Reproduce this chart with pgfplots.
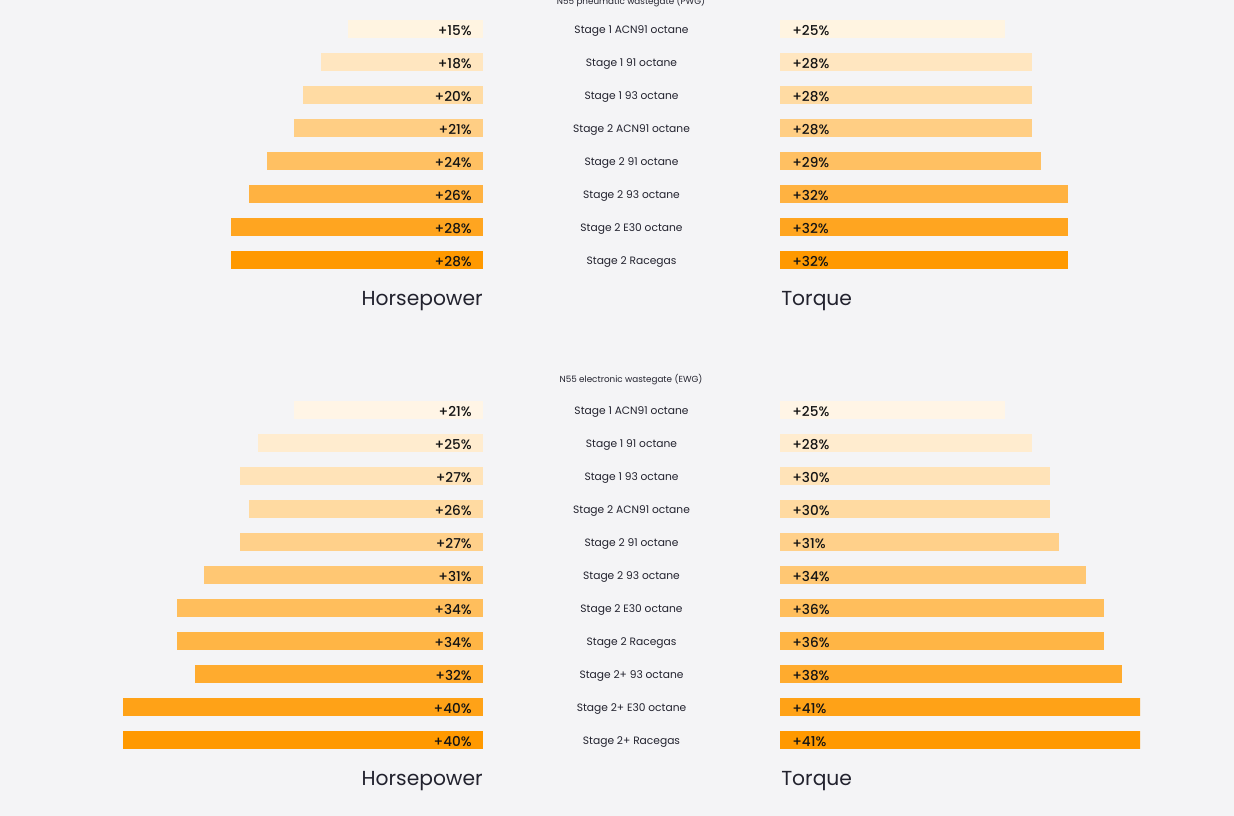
\documentclass[border=0pt]{standalone}
\usepackage{pgfplots}
\pgfplotsset{compat=1.18}
\usepackage{fontspec}
\setmainfont{Poppins}
\newfontfamily\med{Poppins Medium}
\definecolor{bg}{HTML}{F4F4F6}
\definecolor{txt}{HTML}{22222E}
\definecolor{lab}{HTML}{141414}
% top gradient (8)
\definecolor{t1}{HTML}{FFF4E1}
\definecolor{t2}{HTML}{FFE6C0}
\definecolor{t3}{HTML}{FFDBA3}
\definecolor{t4}{HTML}{FFCE84}
\definecolor{t5}{HTML}{FFC062}
\definecolor{t6}{HTML}{FFB241}
\definecolor{t7}{HTML}{FFA520}
\definecolor{t8}{HTML}{FF9900}
% bottom gradient (11)
\definecolor{b1}{HTML}{FFF5E6}
\definecolor{b2}{HTML}{FFECCF}
\definecolor{b3}{HTML}{FFE3B8}
\definecolor{b4}{HTML}{FFDAA1}
\definecolor{b5}{HTML}{FFD08A}
\definecolor{b6}{HTML}{FFC773}
\definecolor{b7}{HTML}{FFBE5C}
\definecolor{b8}{HTML}{FFB545}
\definecolor{b9}{HTML}{FFAB2E}
\definecolor{b10}{HTML}{FFA217}
\definecolor{b11}{HTML}{FF9900}
\def\u{0.75pt}
\pgfplotsset{
  bars/.style={xbar, bar width=13.5pt, bar shift=0pt, draw=none, fill=#1},
  base/.style={scale only axis, hide axis, xmin=0, xmax=40, y dir=reverse, clip=true},
  pctL/.style={draw=none, mark=none, nodes near coords, point meta=explicit symbolic,
    nodes near coords style={anchor=east, inner sep=0pt, xshift=-8.25pt, yshift=-1pt, font=\med\fontsize{10.2pt}{12pt}\selectfont, text=lab}},
  pctR/.style={draw=none, mark=none, nodes near coords, point meta=explicit symbolic,
    nodes near coords style={anchor=west, inner sep=0pt, xshift=9pt, yshift=-1pt, font=\med\fontsize{10.2pt}{12pt}\selectfont, text=lab}},
  mid/.style={draw=none, mark=none, nodes near coords, point meta=explicit symbolic,
    nodes near coords style={anchor=center, inner sep=0pt, yshift=-1.4pt, font=\fontsize{8pt}{10pt}\selectfont, text=txt}},
}
\begin{document}
\begin{tikzpicture}
\useasboundingbox (0,0) rectangle (1234*\u,-816*\u);
\clip (0,0) rectangle (1234*\u,-816*\u);
\fill[bg] (0,0) rectangle (1234*\u,-816*\u);
% ---------------- TOP: PWG ----------------
\begin{axis}[base, at={(123*\u,-12.5*\u)}, anchor=north west, width=270pt, height=198pt,
  x dir=reverse, ymin=0.5, ymax=8.5]
\addplot[bars=t1] coordinates {(15,1)};
\addplot[bars=t2] coordinates {(18,2)};
\addplot[bars=t3] coordinates {(20,3)};
\addplot[bars=t4] coordinates {(21,4)};
\addplot[bars=t5] coordinates {(24,5)};
\addplot[bars=t6] coordinates {(26,6)};
\addplot[bars=t7] coordinates {(28,7)};
\addplot[bars=t8] coordinates {(28,8)};
\addplot[pctL] coordinates {(0,1)[+15\%] (0,2)[+18\%] (0,3)[+20\%] (0,4)[+21\%] (0,5)[+24\%] (0,6)[+26\%] (0,7)[+28\%] (0,8)[+28\%]};
\end{axis}
\begin{axis}[base, at={(483*\u,-12.5*\u)}, anchor=north west, width=222.75pt, height=198pt,
  xmin=-1, xmax=1, ymin=0.5, ymax=8.5]
\addplot[mid] coordinates {(0,1)[Stage 1 ACN91 octane] (0,2)[Stage 1 91 octane] (0,3)[Stage 1 93 octane] (0,4)[Stage 2 ACN91 octane] (0,5)[Stage 2 91 octane] (0,6)[Stage 2 93 octane] (0,7)[Stage 2 E30 octane] (0,8)[Stage 2 Racegas]};
\end{axis}
\begin{axis}[base, at={(780*\u,-12.5*\u)}, anchor=north west, width=270pt, height=198pt,
  ymin=0.5, ymax=8.5]
\addplot[bars=t1] coordinates {(25,1)};
\addplot[bars=t2] coordinates {(28,2)};
\addplot[bars=t3] coordinates {(28,3)};
\addplot[bars=t4] coordinates {(28,4)};
\addplot[bars=t5] coordinates {(29,5)};
\addplot[bars=t6] coordinates {(32,6)};
\addplot[bars=t7] coordinates {(32,7)};
\addplot[bars=t8] coordinates {(32,8)};
\addplot[pctR] coordinates {(0,1)[+25\%] (0,2)[+28\%] (0,3)[+28\%] (0,4)[+28\%] (0,5)[+29\%] (0,6)[+32\%] (0,7)[+32\%] (0,8)[+32\%]};
\end{axis}
% ---------------- BOTTOM: EWG ----------------
\begin{axis}[base, at={(123*\u,-393.5*\u)}, anchor=north west, width=270pt, height=272.25pt,
  x dir=reverse, ymin=0.5, ymax=11.5]
\addplot[bars=b1] coordinates {(21,1)};
\addplot[bars=b2] coordinates {(25,2)};
\addplot[bars=b3] coordinates {(27,3)};
\addplot[bars=b4] coordinates {(26,4)};
\addplot[bars=b5] coordinates {(27,5)};
\addplot[bars=b6] coordinates {(31,6)};
\addplot[bars=b7] coordinates {(34,7)};
\addplot[bars=b8] coordinates {(34,8)};
\addplot[bars=b9] coordinates {(32,9)};
\addplot[bars=b10] coordinates {(40,10)};
\addplot[bars=b11] coordinates {(40,11)};
\addplot[pctL] coordinates {(0,1)[+21\%] (0,2)[+25\%] (0,3)[+27\%] (0,4)[+26\%] (0,5)[+27\%] (0,6)[+31\%] (0,7)[+34\%] (0,8)[+34\%] (0,9)[+32\%] (0,10)[+40\%] (0,11)[+40\%]};
\end{axis}
\begin{axis}[base, at={(483*\u,-393.5*\u)}, anchor=north west, width=222.75pt, height=272.25pt,
  xmin=-1, xmax=1, ymin=0.5, ymax=11.5]
\addplot[mid] coordinates {(0,1)[Stage 1 ACN91 octane] (0,2)[Stage 1 91 octane] (0,3)[Stage 1 93 octane] (0,4)[Stage 2 ACN91 octane] (0,5)[Stage 2 91 octane] (0,6)[Stage 2 93 octane] (0,7)[Stage 2 E30 octane] (0,8)[Stage 2 Racegas] (0,9)[Stage 2+ 93 octane] (0,10)[Stage 2+ E30 octane] (0,11)[Stage 2+ Racegas]};
\end{axis}
\begin{axis}[base, at={(780*\u,-393.5*\u)}, anchor=north west, width=270pt, height=272.25pt,
  ymin=0.5, ymax=11.5]
\addplot[bars=b1] coordinates {(25,1)};
\addplot[bars=b2] coordinates {(28,2)};
\addplot[bars=b3] coordinates {(30,3)};
\addplot[bars=b4] coordinates {(30,4)};
\addplot[bars=b5] coordinates {(31,5)};
\addplot[bars=b6] coordinates {(34,6)};
\addplot[bars=b7] coordinates {(36,7)};
\addplot[bars=b8] coordinates {(36,8)};
\addplot[bars=b9] coordinates {(38,9)};
\addplot[bars=b10] coordinates {(41,10)};
\addplot[bars=b11] coordinates {(41,11)};
\addplot[pctR] coordinates {(0,1)[+25\%] (0,2)[+28\%] (0,3)[+30\%] (0,4)[+30\%] (0,5)[+31\%] (0,6)[+34\%] (0,7)[+36\%] (0,8)[+36\%] (0,9)[+38\%] (0,10)[+41\%] (0,11)[+41\%]};
\end{axis}
% titles
\node[font=\fontsize{6.6pt}{8pt}\selectfont, text=txt] at (631*\u,-1.5*\u) {N55 pneumatic wastegate (PWG)};
\node[font=\fontsize{6.6pt}{8pt}\selectfont, text=txt] at (631*\u,-379.5*\u) {N55 electronic wastegate (EWG)};
\node[anchor=base east, inner sep=0pt, font=\fontsize{15.2pt}{18pt}\selectfont, text=txt] at (483*\u,-305.5*\u) {Horsepower};
\node[anchor=base west, inner sep=0pt, font=\fontsize{15.2pt}{18pt}\selectfont, text=txt] at (781*\u,-305.5*\u) {Torque};
\node[anchor=base east, inner sep=0pt, font=\fontsize{15.2pt}{18pt}\selectfont, text=txt] at (483*\u,-785.5*\u) {Horsepower};
\node[anchor=base west, inner sep=0pt, font=\fontsize{15.2pt}{18pt}\selectfont, text=txt] at (781*\u,-785.5*\u) {Torque};
\end{tikzpicture}
\end{document}
